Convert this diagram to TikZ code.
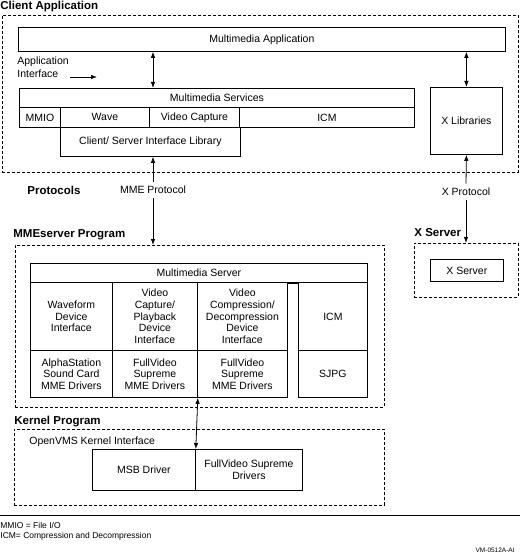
\documentclass[tikz,border=0pt]{standalone}
\usepackage{fontspec}
\setmainfont{Liberation Sans}
\usetikzlibrary{arrows.meta}

\tikzset{every picture/.style={line width=0.8pt}}
\tikzset{
  blk/.style={draw, rectangle, inner sep=0pt, anchor=north west, align=center, font=\fontsize{10.5}{11.6}\selectfont},
  grp/.style={draw, rectangle, inner sep=0pt, anchor=north west, dash pattern=on 3pt off 2pt},
  ttl/.style={anchor=west, inner sep=0pt, font=\fontsize{11.5}{13}\selectfont\bfseries},
  txt/.style={inner sep=0pt, align=left, font=\fontsize{10.5}{13}\selectfont},
  note/.style={anchor=west, inner sep=0pt, font=\fontsize{8.5}{10}\selectfont},
  tip/.style={-{Latex[length=6pt,width=4.5pt]}},
  dtip/.style={{Latex[length=6pt,width=4.5pt]}-{Latex[length=6pt,width=4.5pt]}},
}

\begin{document}
\begin{tikzpicture}[x=1pt,y=1pt,yscale=-1,xscale=1]
  \useasboundingbox (0,0) rectangle (520,556);

  %Group: Client Application
  \node[ttl] (catitle) at (0,7) {Client Application};
  \node[grp, minimum width=516pt, minimum height=157pt] (cagrp) at (2,15) {};
  \node[blk, minimum width=487pt, minimum height=24pt] (mmapp) at (18,27) {Multimedia Application};
  \node[txt, anchor=north west] (apiif) at (17,56) {Application\\Interface};
  \coordinate (apia) at (70,77);
  \coordinate (apib) at (97,77);
  \draw[tip] (apia) -- (apib);
  \node[blk, minimum width=395pt, minimum height=19pt] (mmsvc) at (19,88) {Multimedia Services};
  \node[blk, minimum width=41pt, minimum height=20pt] (mmio) at (19,107) {MMIO};
  \node[blk, minimum width=89pt, minimum height=20pt] (wave) at (60,107) {Wave};
  \node[blk, minimum width=90pt, minimum height=20pt] (vidcap) at (149,107) {Video Capture};
  \node[blk, minimum width=175pt, minimum height=20pt] (icm) at (239,107) {ICM};
  \node[blk, minimum width=180pt, minimum height=29pt] (cslib) at (60,127) {Client/ Server Interface Library};
  \node[blk, minimum width=72pt, minimum height=67pt] (xlib) at (430,87) {X Libraries};

  %Protocols
  \coordinate (mmex) at (153,0);
  \node[ttl] (prtitle) at (27,190) {Protocols};
  \node[txt, inner ysep=4pt] (mmeproto) at (153,190) {MME Protocol};
  \node[txt, inner ysep=4pt] (xproto) at (466,192) {X Protocol};

  %Group: MMEserver Program
  \node[ttl] (mmetitle) at (13,235) {MMEserver Program};
  \node[grp, minimum width=369pt, minimum height=162pt] (mmegrp) at (15,245) {};
  \node[blk, minimum width=337pt, minimum height=19pt] (mmsrv) at (30,263) {Multimedia Server};
  \node[blk, minimum width=82pt, minimum height=68pt] (wfdi) at (30,282) {Waveform\\Device\\Interface};
  \node[blk, minimum width=85pt, minimum height=68pt] (vcpdi) at (112,282) {Video\\Capture/\\Playback\\Device\\Interface};
  \node[blk, minimum width=90pt, minimum height=68pt] (vcddi) at (197,282) {Video\\Compression/\\Decompression\\Device\\Interface};
  \node[blk, minimum width=82pt, minimum height=47pt] (asmd) at (30,350) {AlphaStation\\Sound Card\\MME Drivers};
  \node[blk, minimum width=85pt, minimum height=47pt] (fvsa) at (112,350) {FullVideo\\Supreme\\MME Drivers};
  \node[blk, minimum width=90pt, minimum height=47pt] (fvsb) at (197,350) {FullVideo\\Supreme\\MME Drivers};
  \draw (287,282) -- (298,282) -- (298,397);
  \draw[line width=2pt] (287,283) -- (298,283);
  \node[blk, minimum width=69pt, minimum height=68pt] (icmb) at (298,282) {ICM};
  \node[blk, minimum width=69pt, minimum height=47pt] (sjpg) at (298,350) {SJPG};

  %Group: X Server
  \node[ttl] (xtitle) at (414,233) {X Server};
  \node[grp, minimum width=104pt, minimum height=54pt] (xgrp) at (414,243) {};
  \node[blk, minimum width=73pt, minimum height=22pt] (xsrv) at (430,259) {X Server};

  %Group: Kernel Program
  \node[ttl] (ktitle) at (14,422) {Kernel Program};
  \node[grp, minimum width=370pt, minimum height=76pt] (kgrp) at (14,429) {};
  \node[txt, anchor=west] (kif) at (29,442) {OpenVMS Kernel Interface};
  \node[blk, minimum width=103pt, minimum height=41pt] (msb) at (92,449) {MSB Driver};
  \node[blk, minimum width=107pt, minimum height=41pt] (fvsd) at (195,449) {FullVideo Supreme\\Drivers};

  %Arrows
  \draw[dtip] (mmapp.south -| mmex) -- (mmsvc.north -| mmex);
  \draw[dtip] (mmapp.south -| xlib) -- (xlib.north);
  \draw[tip] (mmeproto.north) -- (cslib.south -| mmex);
  \draw[tip] (mmeproto.south) -- (mmegrp.north -| mmex);
  \draw[tip] (xproto.north) -- (xlib.south);
  \draw[tip] (xproto.south) -- (xgrp.north -| xproto);
  \draw[dtip] (fvsa.south east) -- (msb.north east);

  %Notes
  \draw (0,515) -- (520,515);
  \node[note] (n1) at (0,525) {MMIO = File I/O};
  \node[note] (n2) at (0,536) {ICM= Compression and Decompression};
  \node[note, anchor=east, font=\fontsize{6.5}{8}\selectfont] (figid) at (515,550) {VM-0512A-AI};
\end{tikzpicture}
\end{document}
